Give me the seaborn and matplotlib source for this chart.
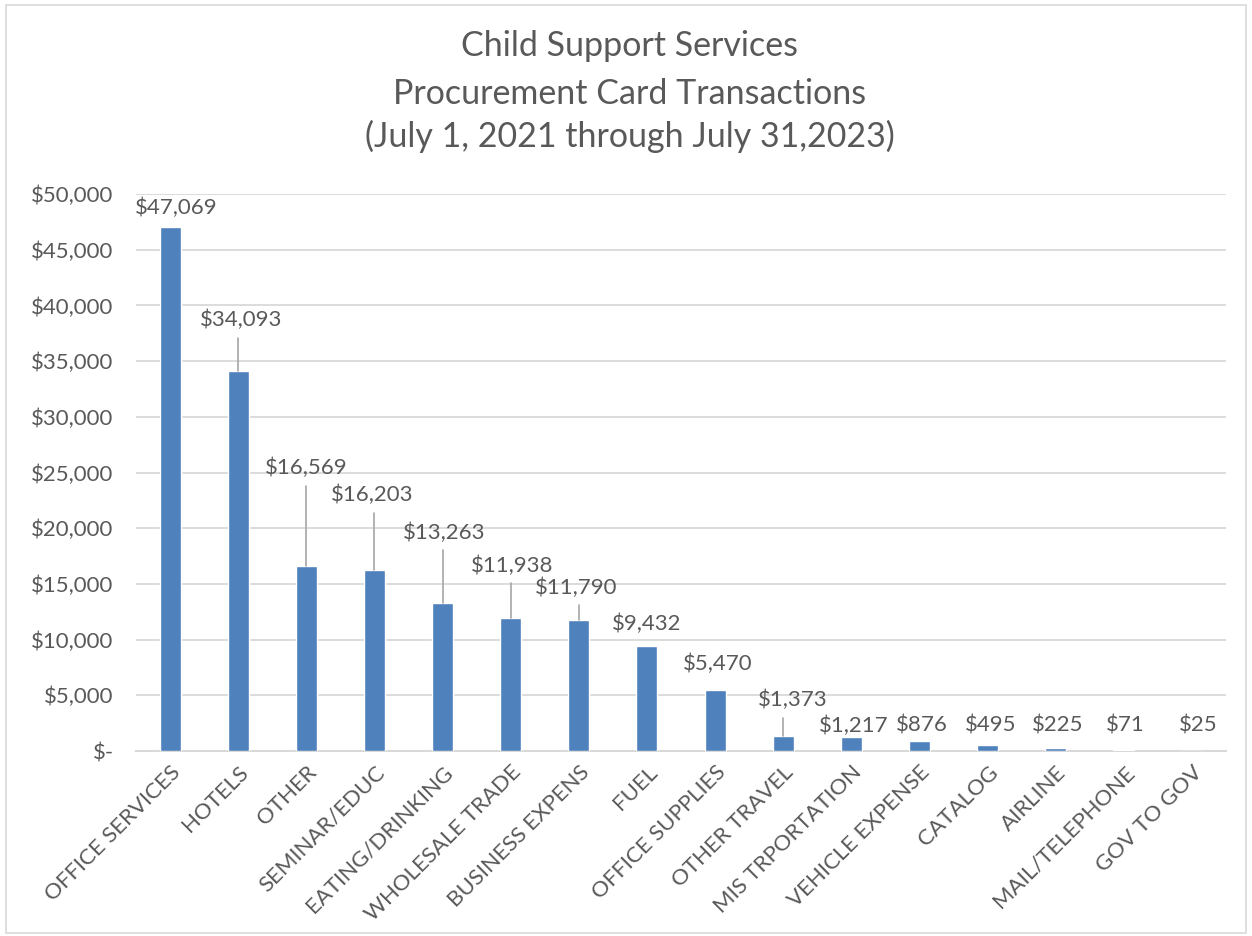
import matplotlib
matplotlib.use("Agg")
import matplotlib.pyplot as plt
import seaborn as sns
import pandas as pd
from matplotlib.patches import Rectangle
from matplotlib.ticker import FuncFormatter, MultipleLocator

categories = ["OFFICE SERVICES", "HOTELS", "OTHER", "SEMINAR/EDUC", "EATING/DRINKING",
              "WHOLESALE TRADE", "BUSINESS EXPENS", "FUEL", "OFFICE SUPPLIES", "OTHER TRAVEL",
              "MIS TRPORTATION", "VEHICLE EXPENSE", "CATALOG", "AIRLINE", "MAIL/TELEPHONE", "GOV TO GOV"]
amounts = [47069, 34093, 16569, 16203, 13263, 11938, 11790, 9432, 5470, 1373,
           1217, 876, 495, 225, 71, 25]
labels = ["$47,069", "$34,093", "$16,569", "$16,203", "$13,263", "$11,938", "$11,790", "$9,432",
          "$5,470", "$1,373", "$1,217", "$876", "$495", "$225", "$71", "$25"]

# layout: label centre heights (data units) and x shifts (category units)
label_y = [48745, 38700, 25400, 23000, 19600, 16650, 14680, 11400, 7810, 4580,
           2250, 2250, 2250, 2250, 2250, 2250]
label_dx = [0.09, 0.05, 0.0, -0.03, 0.03, 0.02, -0.04, 0.0, 0.04, 0.14,
            0.04, 0.03, 0.04, 0.03, 0.02, 0.09]
leader = [False, True, True, True, True, True, True, False, False, True,
          False, False, False, False, False, False]

df = pd.DataFrame({"category": categories, "amount": amounts})

sns.set_theme(style="white")
plt.rcParams["font.family"] = ["Lato", "DejaVu Sans"]
text_col = "#595959"

fig = plt.figure(figsize=(12.52, 9.36), dpi=100)
ax = fig.add_axes([136 / 1252, 1 - 751 / 936, 1090 / 1252, 557 / 936])

sns.barplot(data=df, x="category", y="amount", color="#4f81bd", saturation=1,
            width=0.31, ax=ax, zorder=3)

ax.set_ylim(0, 50000)
ax.set_xlim(-0.5, len(categories) - 0.5)
ax.yaxis.set_major_locator(MultipleLocator(5000))
ax.yaxis.set_major_formatter(FuncFormatter(lambda v, p: "$-" if v == 0 else f"${v:,.0f}"))
ax.grid(axis="y", color="#d9d9d9", linewidth=1.3, zorder=0)
for s in ["top", "right", "left"]:
    ax.spines[s].set_visible(False)
ax.spines["bottom"].set_color("#d9d9d9")
ax.spines["bottom"].set_linewidth(1.5)
ax.set_xlabel("")
ax.set_ylabel("")
ax.tick_params(axis="y", length=0, pad=16, labelsize=16, labelcolor=text_col)
ax.tick_params(axis="x", length=0, pad=8, labelsize=16, labelcolor=text_col)
plt.setp(ax.get_xticklabels(), rotation=45, ha="right", rotation_mode="anchor")

for i, (amt, lab, ly, dx, ld) in enumerate(zip(amounts, labels, label_y, label_dx, leader)):
    ax.text(i + dx, ly, lab, ha="center", va="center", fontsize=16, color=text_col, zorder=5)
    if ld:
        ax.plot([i, i], [amt, ly - 1600], color="#a6a6a6", linewidth=1.2, zorder=4)

fig.text(0.503, 0.951, "Child Support Services", ha="center", va="center", fontsize=24.5, color=text_col)
fig.text(0.503, 0.900, "Procurement Card Transactions", ha="center", va="center", fontsize=24.5, color=text_col)
fig.text(0.503, 0.854, "(July 1, 2021 through July 31,2023)", ha="center", va="center", fontsize=24.5, color=text_col)

fig.patches.append(Rectangle((6 / 1252, 3 / 936), 1240 / 1252, 928 / 936, transform=fig.transFigure,
                             fill=False, edgecolor="#d9d9d9", linewidth=1.2))

fig.savefig("out.png", dpi=100)
